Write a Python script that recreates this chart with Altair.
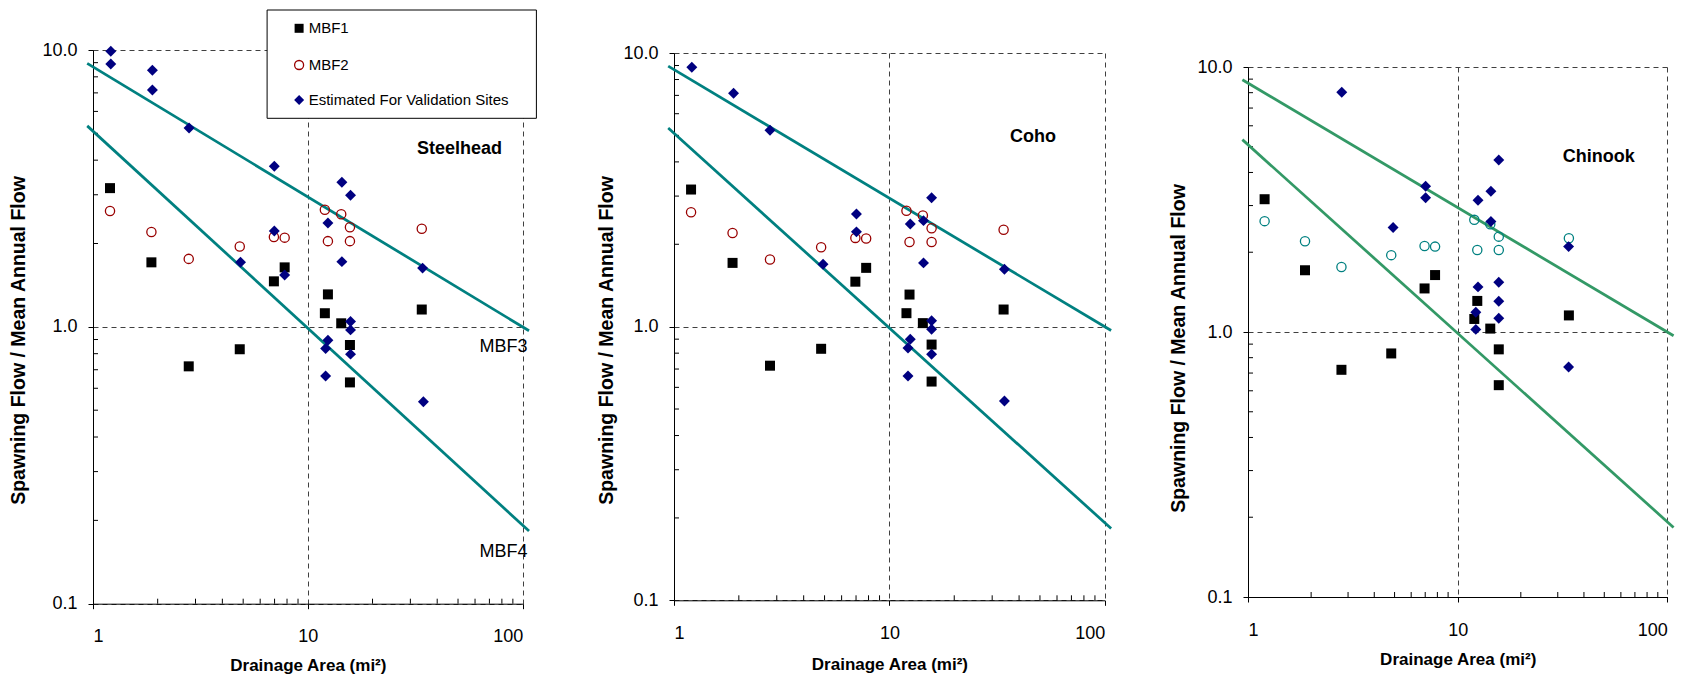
import altair as alt
import pandas as pd

FONT = "Liberation Sans"

# ---------------- data ----------------
site_area = [1.2, 1.87, 2.79, 4.82, 6.95, 7.8, 12.0, 12.4, 14.3, 15.7, 15.7, 33.9]
mbf1_ratio = [3.17, 1.71, 0.72, 0.83, 1.46, 1.64, 1.12, 1.31, 1.03, 0.86, 0.63, 1.155]
mbf2_ratio = [2.62, 2.20, 1.76, 1.95, 2.11, 2.10, 2.65, 2.04, 2.55, 2.29, 2.04, 2.26]

steelhead_area = [1.21, 1.21, 1.89, 1.89, 2.80, 6.98, 14.4, 15.8, 12.4, 6.98, 4.86,
                  14.4, 7.80, 34.2, 15.8, 15.8, 12.4, 12.1, 15.8, 12.1, 34.5]
steelhead_ratio = [9.9, 8.9, 8.45, 7.17, 5.23, 3.80, 3.33, 2.99, 2.37, 2.22, 1.71,
                   1.72, 1.54, 1.63, 1.045, 0.975, 0.895, 0.835, 0.797, 0.664, 0.536]

coho_area = [1.21, 1.89, 2.79, 7.03, 7.03, 4.92, 15.7, 14.4, 12.5, 14.4, 34.2,
             15.7, 15.7, 12.5, 12.2, 15.7, 12.2, 34.2]
coho_ratio = [8.87, 7.13, 5.22, 2.58, 2.22, 1.69, 2.96, 2.44, 2.37, 1.71, 1.62,
              1.05, 0.978, 0.90, 0.836, 0.793, 0.66, 0.535]

chinook_area = [2.80, 15.7, 7.03, 7.03, 14.4, 12.5, 4.92, 14.4, 33.8, 12.5, 15.7,
                15.7, 12.2, 15.7, 12.2, 33.8]
chinook_ratio = [8.03, 4.46, 3.55, 3.21, 3.40, 3.14, 2.48, 2.61, 2.10, 1.48, 1.54,
                 1.306, 1.187, 1.127, 1.023, 0.738]

line_area = [0.94, 107.0]
mbf3_ratio = [8.95, 0.968]
mbf4_ratio = [5.32, 0.183]

panel_titles = ["Steelhead", "Coho", "Chinook"]
legend_labels = ["MBF1", "MBF2", "Estimated For Validation Sites"]
line_labels = ["MBF3", "MBF4"]
x_ticks = [1, 10, 100]
y_ticks = [0.1, 1, 10]
x_minor = [2, 3, 4, 5, 6, 7, 8, 9, 20, 30, 40, 50, 60, 70, 80, 90]
y_minor = [0.2, 0.3, 0.4, 0.5, 0.6, 0.7, 0.8, 0.9, 2, 3, 4, 5, 6, 7, 8, 9]

NAVY = "#000080"
TOP_EXT = 46  # fixed headroom above every plot area


def df(x, y):
    return pd.DataFrame({"x": x, "y": y})


def one(label):
    return pd.DataFrame({"t": [label]})


def make_panel(title, est_x, est_y, w, h, left_space, right_space,
               title_xy, ytitle_xy, xtitle_y, line_color, mbf2_color,
               with_legend=False, with_line_labels=False):
    xs = alt.Scale(type="log", domain=[1, 100], nice=False)
    ys = alt.Scale(type="log", domain=[0.1, 10], nice=False)
    common = dict(
        grid=True, gridDash=[5, 4], gridColor="#404040", gridWidth=1,
        domainColor="black", domainWidth=1, tickColor="black", tickSize=5,
        labelFont=FONT, labelFontSize=18, labelColor="black",
        titleFont=FONT, titleFontWeight="bold", titleColor="black",
    )
    xaxis = alt.Axis(values=x_ticks, format="d", title="Drainage Area (mi²)",
                     labelPadding=19, titleFontSize=17, titleBaseline="middle",
                     titleY=xtitle_y, **common)
    yaxis = alt.Axis(values=y_ticks, format=".1f",
                     title="Spawning Flow / Mean Annual Flow",
                     labelPadding=11, titleFontSize=19.5, titleBaseline="middle",
                     titleX=ytitle_xy[0], titleY=ytitle_xy[1], **common)
    X = alt.X("x:Q", scale=xs, axis=xaxis)
    Y = alt.Y("y:Q", scale=ys, axis=yaxis)

    layers = []
    # invisible spacer that fixes the panel's outer box
    layers.append(
        alt.Chart(one("")).mark_rule(color="white", strokeWidth=1).encode(
            x=alt.value(-left_space), x2=alt.value(right_space), y=alt.value(-TOP_EXT))
    )
    # minor ticks (inside)
    layers.append(
        alt.Chart(pd.DataFrame({"y": y_minor})).mark_rule(color="black", strokeWidth=1)
        .encode(y=Y, x=alt.value(0), x2=alt.value(5))
    )
    layers.append(
        alt.Chart(pd.DataFrame({"x": x_minor})).mark_rule(color="black", strokeWidth=1)
        .encode(x=X, y=alt.value(h), y2=alt.value(h - 5))
    )
    # regression lines
    for ratios in (mbf3_ratio, mbf4_ratio):
        layers.append(
            alt.Chart(df(line_area, ratios)).mark_line(color=line_color, strokeWidth=2.75, clip=False)
            .encode(x=X, y=Y)
        )
    # points
    layers.append(
        alt.Chart(df(site_area, mbf1_ratio)).mark_point(shape="square", filled=True, color="black",
                                                          size=100, opacity=1).encode(x=X, y=Y)
    )
    layers.append(
        alt.Chart(df(site_area, mbf2_ratio)).mark_point(shape="circle", filled=False, color=mbf2_color,
                                                          size=85, strokeWidth=1.3, opacity=1).encode(x=X, y=Y)
    )
    layers.append(
        alt.Chart(df(est_x, est_y)).mark_point(shape="diamond", filled=True, color=NAVY,
                                                 size=120, opacity=1).encode(x=X, y=Y)
    )
    # species title
    layers.append(
        alt.Chart(one(title)).mark_text(font=FONT, fontSize=18, fontWeight="bold", color="black",
                                        align="center", baseline="middle")
        .encode(x=alt.value(title_xy[0]), y=alt.value(title_xy[1]), text="t:N")
    )
    if with_line_labels:
        for lab, yy in zip(line_labels, (296.7, 501.7)):
            layers.append(
                alt.Chart(one(lab)).mark_text(font=FONT, fontSize=18, color="black",
                                              align="right", baseline="middle")
                .encode(x=alt.value(434.4), y=alt.value(yy), text="t:N")
            )
    if with_legend:
        layers.append(
            alt.Chart(one("")).mark_rect(fill="white", stroke="black", strokeWidth=1)
            .encode(x=alt.value(174.1), x2=alt.value(443.4), y=alt.value(-40), y2=alt.value(68.3))
        )
        sym_x, txt_x = 206.1, 215.7
        ys_leg = [-21.7, 15.0, 50.0]
        sym_marks = [
            dict(shape="square", filled=True, color="black", size=81),
            dict(shape="circle", filled=False, color=mbf2_color, size=81, strokeWidth=1.3),
            dict(shape="diamond", filled=True, color=NAVY, size=100),
        ]
        for lab, yy, sm in zip(legend_labels, ys_leg, sym_marks):
            layers.append(
                alt.Chart(one(lab)).mark_point(opacity=1, **sm)
                .encode(x=alt.value(sym_x), y=alt.value(yy))
            )
            layers.append(
                alt.Chart(one(lab)).mark_text(font=FONT, fontSize=15, color="black",
                                              align="left", baseline="middle")
                .encode(x=alt.value(txt_x), y=alt.value(yy), text="t:N")
            )
    return alt.layer(*layers).properties(width=w, height=h)


def top_gap(hs):
    # small blank view that pushes a panel down by hs pixels
    return (
        alt.Chart(one("")).mark_rule(color="white", strokeWidth=0.2)
        .encode(x=alt.value(0), y=alt.value(0.2), y2=alt.value(hs - 0.5))
        .properties(width=1, height=hs)
    )


p1 = make_panel(panel_titles[0], steelhead_area, steelhead_ratio,
                w=429.7, h=553.7, left_space=92.0, right_space=481.5,
                title_xy=(366.4, 99), ytitle_xy=(-75, 290), xtitle_y=62,
                line_color="#008080", mbf2_color="#990000",
                with_legend=True, with_line_labels=True)
p2 = make_panel(panel_titles[1], coho_area, coho_ratio,
                w=430.8, h=547.3, left_space=98.5, right_space=465.5,
                title_xy=(358.9, 84), ytitle_xy=(-68, 287), xtitle_y=64,
                line_color="#008080", mbf2_color="#990000")
p3 = make_panel(panel_titles[2], chinook_area, chinook_ratio,
                w=419.4, h=530, left_space=107.5, right_space=440,
                title_xy=(350.8, 90), ytitle_xy=(-70, 281), xtitle_y=62,
                line_color="#339966", mbf2_color="#008080")

col1 = alt.vconcat(top_gap(3), p1, spacing=0)
col2 = alt.vconcat(top_gap(6), p2, spacing=0)
col3 = alt.vconcat(top_gap(20), p3, spacing=0)

chart = (
    alt.hconcat(col1, col2, col3, spacing=0)
    .properties(padding={"left": 0, "top": 0, "right": 0, "bottom": 0}, background="white")
    .configure_view(stroke=None)
)

chart.save("out.html", embed_options={"renderer": "svg", "actions": False})
